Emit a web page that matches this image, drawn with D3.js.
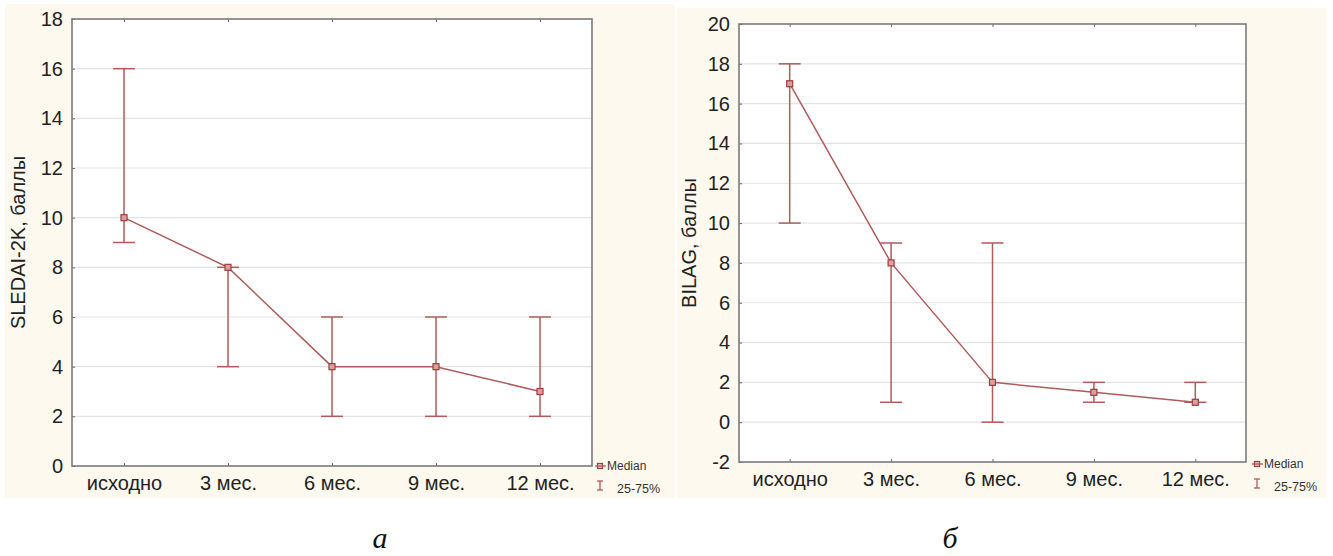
<!DOCTYPE html>
<html><head><meta charset="utf-8">
<script src="https://cdn.jsdelivr.net/npm/d3@7"></script>
<style>body{margin:0;background:#fff}svg{display:block}</style>
</head><body>
<script>
const categories = ["исходно", "3 мес.", "6 мес.", "9 мес.", "12 мес."];
const sledaiMedian = [10, 8, 4, 4, 3];
const sledaiQ1 = [9, 4, 2, 2, 2];
const sledaiQ3 = [16, 8, 6, 6, 6];
const bilagMedian = [17, 8, 2, 1.5, 1];
const bilagQ1 = [10, 1, 0, 1, 1];
const bilagQ3 = [18, 9, 9, 2, 2];
const sledaiTicks = [0, 2, 4, 6, 8, 10, 12, 14, 16, 18];
const bilagTicks = [-2, 0, 2, 4, 6, 8, 10, 12, 14, 16, 18, 20];
const legendLabels = ["Median", "25-75%"];

const W = 1333, H = 556;
const svg = d3.select("body").append("svg").attr("width", W).attr("height", H);
const red = "#b35a5a";
const FONT = "Liberation Sans, Arial, sans-serif";

function panel(o) {
  const g = svg.append("g");
  g.append("rect").attr("x", o.bg[0]).attr("y", o.bg[1]).attr("width", o.bg[2]).attr("height", o.bg[3]).attr("fill", "#fdf9ef");
  const x = d3.scalePoint().domain(categories).range([o.x0, o.x1]).padding(0.5);
  const y = d3.scaleLinear().domain(o.domain).range([o.y1, o.y0]);
  g.append("rect").attr("x", o.x0).attr("y", o.y0).attr("width", o.x1 - o.x0).attr("height", o.y1 - o.y0).attr("fill", "#fff");
  // grid
  g.append("g").selectAll("line").data(o.ticks.filter(t => t !== o.domain[0] && t !== o.domain[1])).join("line")
    .attr("x1", o.x0).attr("x2", o.x1).attr("y1", d => y(d)).attr("y2", d => y(d))
    .attr("stroke", "#e3e3e3").attr("stroke-width", 1.2);
  // y axis
  const ya = g.append("g").attr("transform", `translate(${o.x0},0)`)
    .call(d3.axisLeft(y).tickValues(o.ticks).tickSize(-3).tickPadding(9).tickFormat(d => String(d)));
  ya.select(".domain").remove();
  ya.selectAll("line").attr("stroke", "#666");
  ya.selectAll("text").attr("font-family", FONT).attr("font-size", 20).attr("fill", "#222");
  // x axis
  const xa = g.append("g").attr("transform", `translate(0,${o.y1})`)
    .call(d3.axisBottom(x).tickSize(-3).tickPadding(10));
  xa.select(".domain").remove();
  xa.selectAll("line").attr("stroke", "#666");
  xa.selectAll("text").attr("font-family", FONT).attr("font-size", 20).attr("fill", "#222");
  // top ticks
  const xt = g.append("g").attr("transform", `translate(0,${o.y0})`)
    .call(d3.axisTop(x).tickSize(-3).tickFormat(""));
  xt.select(".domain").remove();
  xt.selectAll("line").attr("stroke", "#666");
  // frame
  g.append("rect").attr("x", o.x0).attr("y", o.y0).attr("width", o.x1 - o.x0).attr("height", o.y1 - o.y0)
    .attr("fill", "none").attr("stroke", "#7a7a7a").attr("stroke-width", 1.6);
  // y title
  g.append("text").attr("transform", `translate(${o.titleX},${(o.y0 + o.y1) / 2}) rotate(-90)`)
    .attr("text-anchor", "middle").attr("font-family", FONT).attr("font-size", 20).attr("fill", "#222")
    .text(o.title);
  // error bars
  const cap = 11;
  const eb = g.append("g").attr("stroke", red).attr("stroke-width", 1.5).attr("fill", "none");
  categories.forEach((c, i) => {
    const cx = x(c);
    eb.append("line").attr("x1", cx).attr("x2", cx).attr("y1", y(o.q1[i])).attr("y2", y(o.q3[i]));
    eb.append("line").attr("x1", cx - cap).attr("x2", cx + cap).attr("y1", y(o.q1[i])).attr("y2", y(o.q1[i]));
    eb.append("line").attr("x1", cx - cap).attr("x2", cx + cap).attr("y1", y(o.q3[i])).attr("y2", y(o.q3[i]));
  });
  // median line
  g.append("path").datum(o.med)
    .attr("d", d3.line().x((d, i) => x(categories[i])).y(d => y(d)))
    .attr("fill", "none").attr("stroke", red).attr("stroke-width", 1.5);
  g.append("g").selectAll("rect").data(o.med).join("rect")
    .attr("x", (d, i) => x(categories[i]) - 3).attr("y", d => y(d) - 3)
    .attr("width", 6).attr("height", 6).attr("fill", "#d9a0a0").attr("stroke", "#a03c3c").attr("stroke-width", 1.2);
  // legend
  const lx = o.leg[0], ly = o.leg[1];
  g.append("rect").attr("x", lx - 1.5).attr("y", ly - 2.5).attr("width", 5).attr("height", 5).attr("fill", "#e8c4c4").attr("stroke", "#a03c3c").attr("stroke-width", 1.2);
  g.append("line").attr("x1", lx - 4).attr("x2", lx + 7).attr("y1", ly).attr("y2", ly).attr("stroke", red).attr("stroke-width", 1.3);
  g.append("text").attr("x", lx + 8).attr("y", ly + 4).attr("font-family", FONT).attr("font-size", 12).attr("fill", "#333").text(legendLabels[0]);
  const ey = ly + 15;
  g.append("line").attr("x1", lx + 1).attr("x2", lx + 1).attr("y1", ey).attr("y2", ey + 9).attr("stroke", red).attr("stroke-width", 1.3);
  g.append("line").attr("x1", lx - 2).attr("x2", lx + 4).attr("y1", ey).attr("y2", ey).attr("stroke", red).attr("stroke-width", 1.3);
  g.append("line").attr("x1", lx - 2).attr("x2", lx + 4).attr("y1", ey + 9).attr("y2", ey + 9).attr("stroke", red).attr("stroke-width", 1.3);
  g.append("text").attr("x", lx + 18).attr("y", ey + 12).attr("font-family", FONT).attr("font-size", 12.5).attr("fill", "#333").text(legendLabels[1]);
  // caption
  g.append("text").attr("x", o.cap[0]).attr("y", o.cap[1]).attr("text-anchor", "middle")
    .attr("font-family", "Liberation Serif, Times New Roman, serif").attr("font-style", "italic").attr("font-size", 30).attr("fill", "#111")
    .text(o.capText);
}

panel({bg: [5, 4, 670, 494], x0: 72, x1: 592, y0: 19, y1: 466, domain: [0, 18], ticks: sledaiTicks,
  med: sledaiMedian, q1: sledaiQ1, q3: sledaiQ3, title: "SLEDAI-2K, баллы", titleX: 25,
  leg: [599, 466], cap: [380, 548], capText: "а"});
panel({bg: [677, 8, 649, 490], x0: 739, x1: 1246, y0: 24, y1: 462, domain: [-2, 20], ticks: bilagTicks,
  med: bilagMedian, q1: bilagQ1, q3: bilagQ3, title: "BILAG, баллы", titleX: 696,
  leg: [1256, 464], cap: [950, 548], capText: "б"});
</script>
</body></html>
